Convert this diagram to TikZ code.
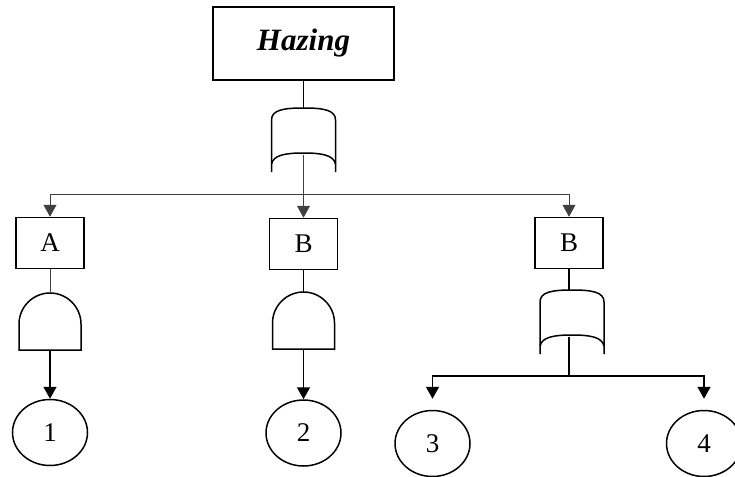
\documentclass[tikz,border=0pt]{standalone}
\usepackage{fontspec}
\setmainfont{Liberation Serif}
\usetikzlibrary{arrows.meta,positioning,shapes.geometric}

\begin{document}
\begin{tikzpicture}[
  x=1pt, y=-1pt,
  top/.style={draw, line width=1.5pt, minimum width=181pt, minimum height=73pt,
              inner sep=0pt, font=\fontsize{31}{36}\selectfont\bfseries\itshape},
  box/.style={draw, line width=1.5pt, minimum width=68pt, minimum height=51pt,
              inner sep=0pt, font=\fontsize{27}{32}\selectfont},
  event/.style={draw, ellipse, line width=1.5pt, minimum width=75pt, minimum height=66pt,
              inner sep=0pt, font=\fontsize{27}{32}\selectfont},
  gate/.style={draw, line width=1.5pt},
  link/.style={line width=0.8pt, black!75},
  wire/.style={line width=1.5pt},
  arrow/.style={-{Triangle[length=12pt,width=13pt]}},
  orgate/.pic={
    \draw[gate] (-32,64) -- (-32,12) .. controls (-32,2) and (-20,0) .. (0,0)
      .. controls (20,0) and (32,2) .. (32,12) -- (32,64);
    \draw[gate] (-32,56) .. controls (-30,47) and (-18,45) .. (0,45)
      .. controls (18,45) and (30,47) .. (32,56);
    \coordinate (-in) at (0,0);
    \coordinate (-out) at (0,47);
  },
  andgate/.pic={
    \draw[gate] (-31,57) -- (-31,31) .. controls (-31,14) and (-17,0) .. (0,0)
      .. controls (17,0) and (31,14) .. (31,31) -- (31,57) -- cycle;
    \coordinate (-in) at (0,0);
    \coordinate (-out) at (0,57);
  }
]
\useasboundingbox (0,0) rectangle (735,476);
\node[top] (haz) at (303.5,43.5) {Hazing};
\pic (g0) at (303.5,108) {orgate};
\coordinate (split) at (303.5,194);
\node[box] (a) at (50,243) {A};
\node[box] (b1) at (303.5,244) {B};
\node[box] (b2) at (569,243) {B};
\pic (g1) at (50,293) {andgate};
\pic (g2) at (303.5,292) {andgate};
\pic (g3) at (572,290) {orgate};
\coordinate (split2) at (569,376);
\node[event] (e1) at (50,432.5) {1};
\node[event] (e2) at (303.5,433) {2};
\node[event] (e3) at (432.5,443.5) {3};
\node[event] (e4) at (704,443.5) {4};
\draw[wire] (haz) -- (g0-in);
\draw[link] (g0-out) -- (split);
\draw[link, arrow] (split) -| (a);
\draw[link, arrow] (split) -- (b1);
\draw[link, arrow] (split) -| (b2);
\draw[link] (a) -- (g1-in);
\draw[wire] (b1) -- (g2-in);
\draw[wire] (b2) -- (b2 |- g3-in);
\draw[wire] (b2 |- g3-out) -- (split2);
\draw[wire, arrow] (g1-out) -- (e1);
\draw[wire, arrow] (g2-out) -- (e2);
\draw[wire, arrow, shorten >=11pt] (split2) -| (e3);
\draw[wire, arrow, shorten >=11pt] (split2) -| (e4);
\end{tikzpicture}
\end{document}
